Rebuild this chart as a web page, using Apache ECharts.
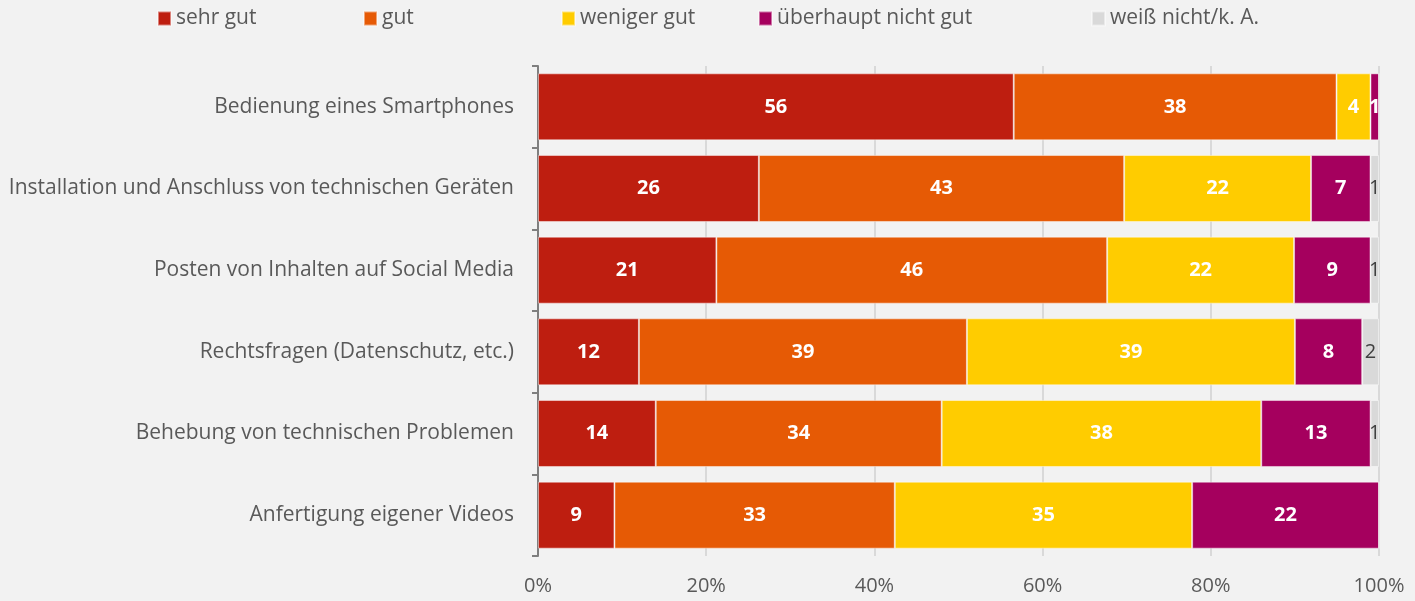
<!DOCTYPE html>
<html>
<head>
<meta charset="utf-8">
<script src="https://cdn.jsdelivr.net/npm/echarts@6/dist/echarts.min.js"></script>
<style>
  html, body { margin: 0; padding: 0; background: #F2F2F2; }
  #chart { width: 1415px; height: 601px; }
</style>
</head>
<body>
<div id="chart"></div>
<script>
var categories = [
  'Bedienung eines Smartphones',
  'Installation und Anschluss von technischen Geräten',
  'Posten von Inhalten auf Social Media',
  'Rechtsfragen (Datenschutz, etc.)',
  'Behebung von technischen Problemen',
  'Anfertigung eigener Videos'
];
var seriesNames = ['sehr gut', 'gut', 'weniger gut', 'überhaupt nicht gut', 'weiß nicht/k. A.'];
var sehrGut = [56, 26, 21, 12, 14, 9];
var gut = [38, 43, 46, 39, 34, 33];
var wenigerGut = [4, 22, 22, 39, 38, 35];
var ueberhauptNicht = [1, 7, 9, 8, 13, 22];
var weissNicht = [0, 1, 1, 2, 1, 0];
var xTicks = [0, 20, 40, 60, 80, 100];

var colors = ['#BE1E10', '#E65A05', '#FFCC00', '#A5005E', '#D9D9D9'];
var legendLeft = [152, 358, 556, 753, 1086];
var fontFamily = '"Open Sans", Lato, sans-serif';

var allValues = [sehrGut, gut, wenigerGut, ueberhauptNicht, weissNicht];
var totals = categories.map(function (c, i) {
  return allValues.reduce(function (s, arr) { return s + arr[i]; }, 0);
});

var series = allValues.map(function (arr, k) {
  return {
    name: seriesNames[k],
    type: 'bar',
    stack: 'total',
    barCategoryGap: '18%',
    itemStyle: {
      color: colors[k],
      borderColor: 'rgba(255,255,255,0.45)',
      borderWidth: 1
    },
    label: {
      show: true,
      position: 'inside',
      color: k === 4 ? '#404040' : '#fff',
      fontWeight: k === 4 ? 'normal' : 'bold',
      fontSize: 20,
      fontFamily: fontFamily,
      formatter: function (p) {
        return p.data.raw ? String(p.data.raw) : '';
      }
    },
    emphasis: { disabled: true },
    data: arr.map(function (v, i) {
      return { value: v / totals[i] * 100, raw: v };
    })
  };
});

var legends = seriesNames.map(function (name, k) {
  return {
    data: [name],
    left: legendLeft[k],
    top: 3,
    itemWidth: 13,
    itemHeight: 14,
    icon: 'rect',
    itemGap: 8,
    textStyle: { color: '#595959', fontSize: 21, fontFamily: fontFamily },
    selectedMode: false
  };
});

var chart = echarts.init(document.getElementById('chart'));
chart.setOption({
  backgroundColor: '#F2F2F2',
  animation: false,
  legend: legends,
  grid: { left: 538, right: 36, top: 66, bottom: 45, containLabel: false },
  xAxis: {
    type: 'value',
    min: xTicks[0],
    max: xTicks[xTicks.length - 1],
    interval: 20,
    axisLine: { show: false },
    axisTick: { show: false },
    axisLabel: {
      formatter: '{value}%',
      color: '#595959',
      fontSize: 20,
      fontFamily: fontFamily,
      margin: 20
    },
    splitLine: { lineStyle: { color: '#D9D9D9', width: 2 } }
  },
  yAxis: {
    type: 'category',
    inverse: true,
    data: categories,
    axisLine: { lineStyle: { color: '#7F7F7F', width: 2 } },
    axisTick: { show: true, length: 6, lineStyle: { color: '#7F7F7F', width: 2 } },
    axisLabel: {
      color: '#595959',
      fontSize: 21,
      fontFamily: fontFamily,
      margin: 24
    }
  },
  series: series
});
</script>
</body>
</html>
